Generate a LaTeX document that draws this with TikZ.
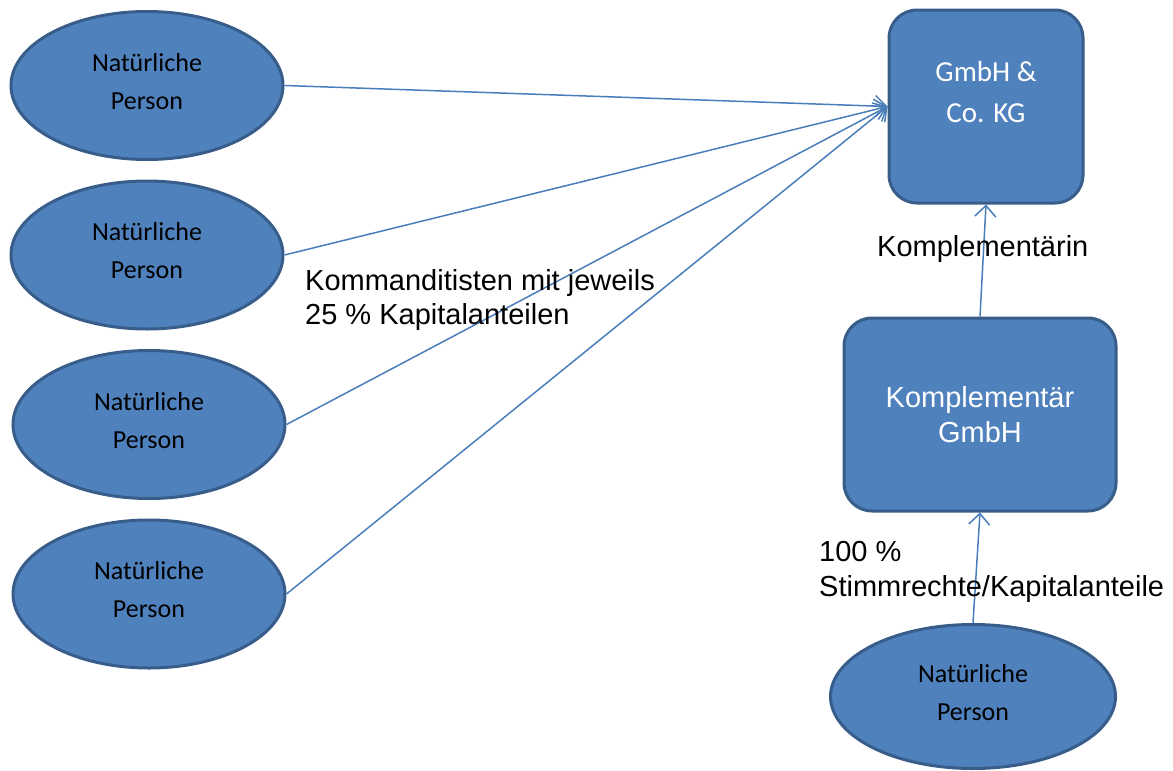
\documentclass[tikz,border=0pt]{standalone}
\usepackage{fontspec}
\setmainfont{Liberation Sans}
\newfontfamily\calibri{Carlito}
\usetikzlibrary{shapes.geometric,arrows.meta}
\definecolor{shapefill}{HTML}{4F81BD}
\definecolor{shapeline}{HTML}{385D8A}
\definecolor{linkblue}{HTML}{4A7EBB}

\begin{document}
\begin{tikzpicture}[
    x=1pt, y=-1pt,
    node distance=169.5pt,
    person/.style={ellipse, draw=shapeline, fill=shapefill, line width=3pt, minimum width=272pt, minimum height=148pt, inner sep=0pt, align=center, text depth=9pt, font=\calibri\fontsize{26}{38}\selectfont},
    company/.style={rectangle, rounded corners=28pt, draw=shapeline, fill=shapefill, line width=3pt, minimum height=193pt, inner sep=0pt, align=center, text=white},
    note/.style={anchor=base west, inner sep=0pt, align=left, font=\fontsize{29}{34}\selectfont},
    arrow/.style={-{Straight Barb[length=11pt,width=21pt]}, draw=linkblue, line width=1.5pt}
]
\useasboundingbox (0,0) rectangle (1173,771);

% Left side: Kommanditisten
\node[person] (person1) at (147,85.5) {Natürliche\\Person};
\node[person, below of=person1] (person2) {Natürliche\\Person};
\node[person, below of=person2, xshift=2pt] (person3) {Natürliche\\Person};
\node[person, below of=person3] (person4) {Natürliche\\Person};

% Right side: companies
\node[company, minimum width=194pt] (kgbox) at (986,106.5) {};
\node[font=\calibri\fontsize{29}{41}\selectfont, text=white, align=center, yshift=14pt] (kg-text) at (kgbox.center) {GmbH \&\\Co. KG};

\node[company, minimum width=272pt, below of=kgbox, node distance=308pt, xshift=-6pt, font=\fontsize{29}{35}\selectfont] (kompl) {Komplementär\\GmbH};

\node[person, minimum width=285pt, minimum height=144pt, below of=kompl, node distance=282pt, xshift=-7pt] (owner) {Natürliche\\Person};

% Arrows
\draw[arrow] (person1.east) -- (kgbox.west);
\draw[arrow] (person2.east) -- (kgbox.west);
\draw[arrow] (person3.east) -- (kgbox.west);
\draw[arrow] (person4.east) -- (kgbox.west);
\draw[arrow] (kompl.north) -- (kgbox.south);
\draw[arrow] (owner.north) -- (kompl.south);

% Annotations (base = last line)
\node[note] (kommandit-note) at (305,324) {Kommanditisten mit jeweils\\25 \% Kapitalanteilen};
\node[note] (kompl-note) at (877,256) {Komplementärin};
\node[note, font=\fontsize{29}{35}\selectfont] (share-note) at (819,596) {100 \%\\Stimmrechte/Kapitalanteile};

\end{tikzpicture}
\end{document}
